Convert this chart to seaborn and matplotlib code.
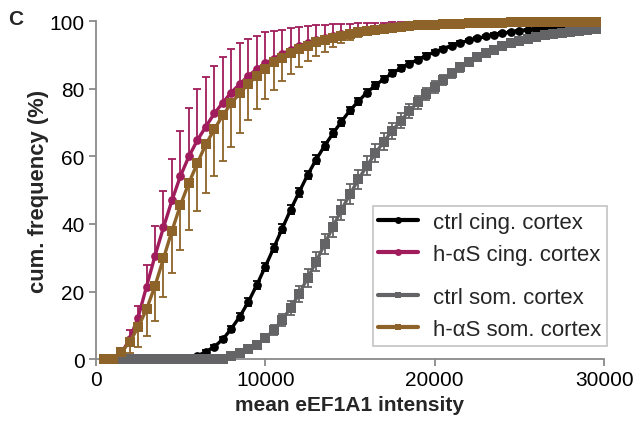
import numpy as np
import pandas as pd
import matplotlib
matplotlib.use("Agg")
import matplotlib.pyplot as plt
import seaborn as sns
from matplotlib.lines import Line2D
from matplotlib.offsetbox import DrawingArea

# ---------------- data ----------------
intensity = list(range(500, 30000, 500))  # 500 ... 29500

ctrl_cing = [0, 0, 0, 0, 0, 0, 0, 0, 0, 0,
             0.3, 1.0, 2.2, 3.7, 5.9, 9.0, 12.6, 16.9, 21.9, 27.3,
             32.9, 38.6, 44.2, 49.4, 54.5, 59.0, 63.1, 66.8, 70.3, 73.6,
             76.3, 78.9, 81.0, 82.9, 84.6, 86.1, 87.4, 88.6, 89.8, 90.9,
             91.9, 92.8, 93.6, 94.3, 94.9, 95.5, 96.0, 96.4, 96.8, 97.2,
             97.5, 97.7, 97.9, 98.1, 98.3, 98.4, 98.5, 98.6, 98.7]
ctrl_cing_err = [0, 0, 0, 0, 0, 0, 0, 0, 0, 0,
                 0.2, 0.3, 0.5, 0.6, 0.8, 0.9, 1.0, 1.1, 1.2, 1.3,
                 1.3, 1.3, 1.3, 1.3, 1.3, 1.3, 1.3, 1.2, 1.2, 1.1,
                 1.1, 1.0, 1.0, 0.9, 0.9, 0.8, 0.8, 0.7, 0.7, 0.6,
                 0.6, 0.6, 0.5, 0.5, 0.5, 0.4, 0.4, 0.4, 0.4, 0.3,
                 0.3, 0.3, 0.3, 0.3, 0.2, 0.2, 0.2, 0.2, 0.2]

has_cing = [0, 0, 1.5, 6.0, 12.3, 21.5, 30.6, 39.0, 47.0, 54.2,
            60.0, 64.8, 68.8, 72.7, 75.9, 78.9, 81.4, 83.8, 85.8, 87.5,
            88.9, 90.3, 91.5, 92.6, 93.5, 94.3, 95.0, 95.6, 96.1, 96.6,
            97.0, 97.4, 97.7, 98.0, 98.3, 98.5, 98.7, 98.9, 99.0, 99.1,
            99.2, 99.3, 99.4, 99.5, 99.5, 99.6, 99.6, 99.7, 99.7, 99.7,
            99.8, 99.8, 99.8, 99.8, 99.9, 99.9, 99.9, 99.9, 99.9]
has_cing_err = [0, 0, 1.0, 2.5, 3.5, 6.3, 8.9, 10.7, 12.3, 13.3,
                14.2, 15.0, 14.6, 14.1, 13.6, 13.0, 12.1, 10.8, 9.9, 9.2,
                8.2, 7.2, 6.5, 5.8, 5.2, 4.6, 4.0, 3.5, 3.1, 2.7,
                2.4, 2.1, 1.8, 1.6, 1.4, 1.2, 1.0, 0.9, 0.8, 0.7,
                0.6, 0.6, 0.5, 0.4, 0.4, 0.3, 0.3, 0.3, 0.2, 0.2,
                0.2, 0.2, 0.1, 0.1, 0.1, 0.1, 0.1, 0.1, 0.1]

ctrl_som = [0, 0, 0, 0, 0, 0, 0, 0, 0, 0,
            0, 0, 0, 0, 0.2, 0.8, 1.8, 2.9, 4.3, 6.2,
            8.6, 11.6, 15.2, 19.3, 24.0, 28.8, 34.0, 39.2, 44.2, 48.8,
            53.2, 57.2, 60.9, 64.4, 67.6, 70.6, 73.4, 76.0, 78.4, 80.6,
            82.7, 84.6, 86.4, 87.9, 89.3, 90.5, 91.6, 92.6, 93.4, 94.1,
            94.8, 95.3, 95.8, 96.2, 96.6, 96.9, 97.2, 97.4, 97.6]
ctrl_som_err = [0, 0, 0, 0, 0, 0, 0, 0, 0, 0,
                0, 0, 0, 0, 0.2, 0.3, 0.5, 0.7, 0.9, 1.2,
                1.5, 1.8, 2.1, 2.4, 2.6, 2.8, 2.9, 3.0, 3.0, 3.0,
                2.9, 2.8, 2.7, 2.6, 2.4, 2.3, 2.1, 2.0, 1.8, 1.7,
                1.5, 1.4, 1.3, 1.2, 1.1, 1.0, 0.9, 0.9, 0.8, 0.8,
                0.7, 0.7, 0.6, 0.6, 0.6, 0.5, 0.5, 0.5, 0.5]

has_som = [0, 0, 2.0, 5.1, 9.4, 14.8, 21.7, 29.8, 38.0, 45.6,
           52.2, 58.0, 63.6, 68.0, 72.2, 75.7, 78.7, 81.4, 83.8, 86.0,
           87.8, 89.2, 90.7, 91.7, 92.7, 93.7, 94.5, 95.1, 95.7, 96.2,
           96.7, 97.1, 97.5, 97.8, 98.1, 98.4, 98.6, 98.8, 98.9, 99.0,
           99.1, 99.2, 99.3, 99.4, 99.5, 99.5, 99.6, 99.6, 99.7, 99.7,
           99.7, 99.8, 99.8, 99.8, 99.8, 99.9, 99.9, 99.9, 99.9]
has_som_err = [0, 0, 1.0, 3.2, 5.9, 7.9, 10.4, 11.5, 12.5, 13.2,
               13.9, 14.2, 14.3, 13.8, 13.5, 12.9, 11.9, 10.6, 9.9, 9.1,
               8.1, 7.0, 6.4, 5.2, 4.4, 3.9, 3.5, 2.8, 2.2, 1.8,
               1.5, 1.3, 1.1, 0.9, 0.8, 0.7, 0.6, 0.5, 0.5, 0.4,
               0.4, 0.3, 0.3, 0.3, 0.2, 0.2, 0.2, 0.2, 0.2, 0.1,
               0.1, 0.1, 0.1, 0.1, 0.1, 0.1, 0.1, 0.1, 0.1]

labels = ["ctrl cing. cortex", "h-\u03b1S cing. cortex",
          "ctrl som. cortex", "h-\u03b1S som. cortex"]
colors = ["#000000", "#A01C5C", "#646466", "#8E6329"]
markers = ["o", "o", "s", "s"]
x_ticks = [0, 10000, 20000, 30000]
y_ticks = [0, 20, 40, 60, 80, 100]

# ---------------- style ----------------
sns.set_theme(style="ticks")
plt.rcParams["font.family"] = ["Liberation Sans", "DejaVu Sans"]
axis_grey = "#8a8a8a"

fig = plt.figure(figsize=(6.38, 4.35), dpi=100)
ax = fig.add_axes([0.150, 0.172, 0.797, 0.777])

series = [
    (ctrl_som, ctrl_som_err, 2, "both"),
    (ctrl_cing, ctrl_cing_err, 0, "both"),
    (has_cing, has_cing_err, 1, "up"),
    (has_som, has_som_err, 3, "down"),
]

x = np.array(intensity, dtype=float)
for vals, errs, idx, mode in series:
    v = np.array(vals, dtype=float)
    e = np.array(errs, dtype=float)
    z = np.zeros_like(e)
    if mode == "up":
        yerr = [z, e]
    elif mode == "down":
        yerr = [e, z]
    else:
        yerr = [e, e]
    _, caps, bars = ax.errorbar(x, v, yerr=yerr, fmt="none", ecolor=colors[idx],
                                elinewidth=1.3, capsize=3.2, capthick=1.3,
                                zorder=2 + idx * 0.1, clip_on=False)
    for c in caps:
        c.set_clip_on(False)
    if mode == "up":
        caps[0].set_visible(False)
    elif mode == "down":
        caps[1].set_visible(False)
    df = pd.DataFrame({"x": x, "y": v})
    sns.lineplot(data=df, x="x", y="y", ax=ax, color=colors[idx],
                 marker=markers[idx], markersize=6.3 if markers[idx] == "o" else 6.5,
                 markeredgewidth=0, linewidth=2.4, zorder=3 + idx * 0.1,
                 clip_on=False, label=None, legend=False)

ax.set_xlim(0, 30000)
ax.set_ylim(0, 100)
ax.set_xticks(x_ticks)
ax.set_yticks(y_ticks)
ax.set_xticklabels([str(t) for t in x_ticks])
ax.set_yticklabels([str(t) for t in y_ticks])
ax.tick_params(axis="both", labelsize=15, colors=axis_grey, labelcolor="black",
               length=5, width=1.3, direction="out", pad=3)
for s in ["top", "right"]:
    ax.spines[s].set_visible(False)
for s in ["left", "bottom"]:
    ax.spines[s].set_color(axis_grey)
    ax.spines[s].set_linewidth(1.3)

ax.set_xlabel("mean eEF1A1 intensity", fontsize=15, fontweight="bold", labelpad=4)
ax.set_ylabel("cum. frequency (%)", fontsize=15.8, fontweight="bold", labelpad=0)

fig.text(0.013, 0.955, "C", fontsize=15, fontweight="bold", ha="left", va="center")

handles = [Line2D([0], [0], color=colors[i], lw=3, marker=markers[i],
                  markersize=5, markeredgewidth=0) for i in range(4)]
leg = ax.legend(handles, labels, loc="lower right", bbox_to_anchor=(1.005, 0.04),
                fontsize=16, frameon=True, fancybox=False, edgecolor="#b5b5b5",
                handlelength=1.8, handletextpad=0.65, labelspacing=0.5,
                borderpad=0.25, borderaxespad=0.0)
leg.get_frame().set_linewidth(1.2)
try:
    col = leg._legend_handle_box.get_children()[0]
    col._children.insert(2, DrawingArea(1, 0))
except Exception:
    pass

fig.savefig("out.png", dpi=100)
